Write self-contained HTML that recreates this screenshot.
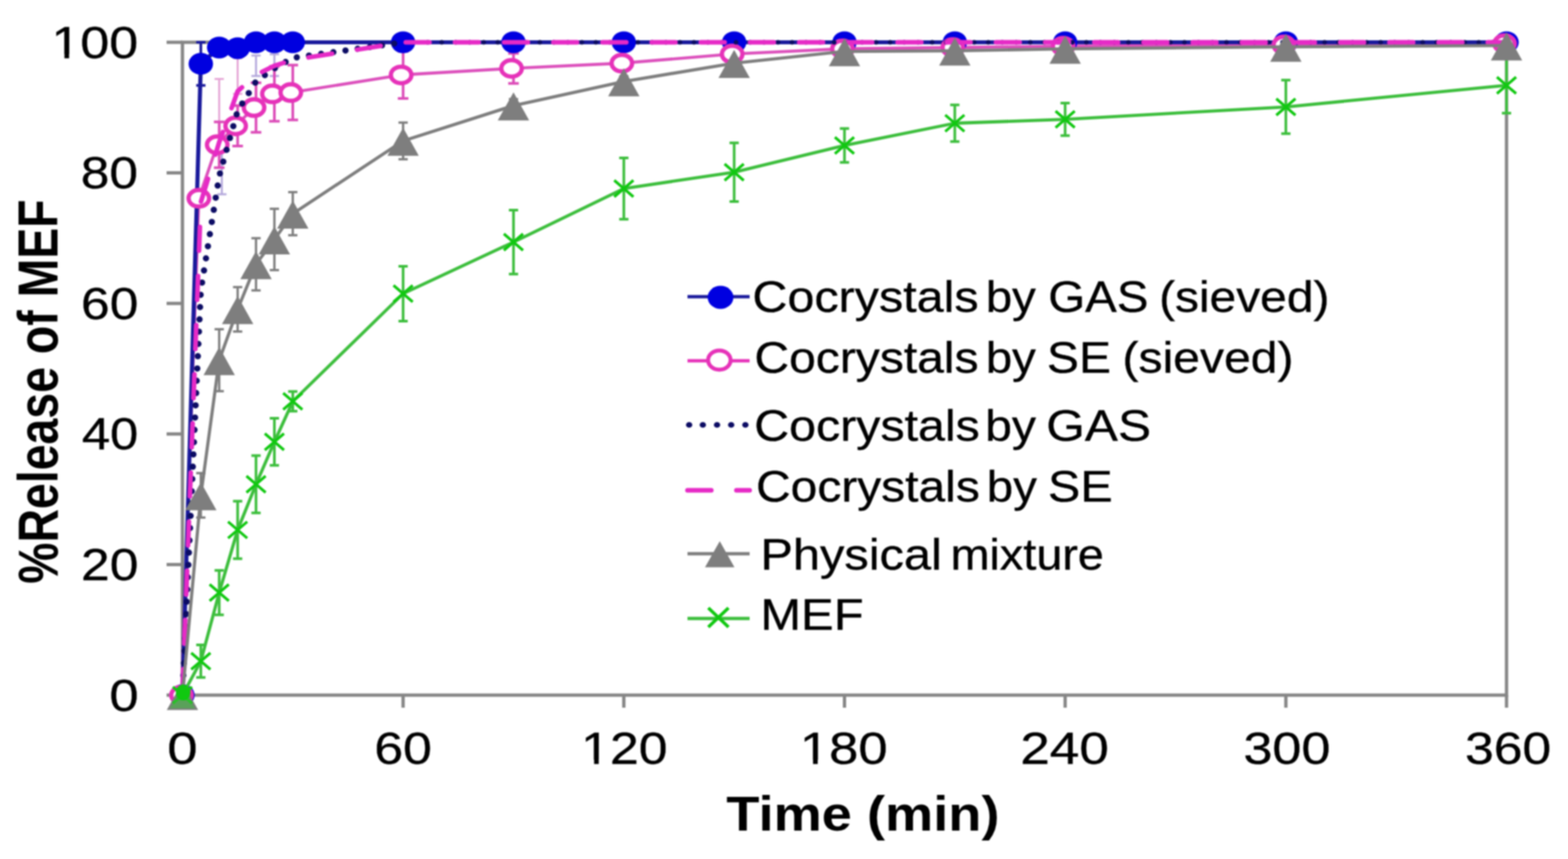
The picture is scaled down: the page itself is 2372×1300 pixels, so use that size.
<!DOCTYPE html>
<html><head><meta charset="utf-8"><title>%Release of MEF vs Time</title>
<style>
html,body{margin:0;padding:0;background:#fff;}
body{width:2372px;height:1300px;overflow:hidden;}
svg{display:block;font-family:"Liberation Sans",Arial,sans-serif;filter:blur(1.2px);}
</style></head><body>
<svg width="2372" height="1300" viewBox="0 0 2372 1300">
<rect width="2372" height="1300" fill="#fff"/>
<g stroke="#868686" stroke-width="5" fill="none">
<rect x="276.0" y="64.0" width="2003.0" height="988.0"/>
<line x1="252" y1="1052.0" x2="276.0" y2="1052.0"/>
<line x1="252" y1="854.4" x2="276.0" y2="854.4"/>
<line x1="252" y1="656.8" x2="276.0" y2="656.8"/>
<line x1="252" y1="459.2" x2="276.0" y2="459.2"/>
<line x1="252" y1="261.6" x2="276.0" y2="261.6"/>
<line x1="252" y1="64.0" x2="276.0" y2="64.0"/>
<line x1="276.0" y1="1052.0" x2="276.0" y2="1071"/>
<line x1="609.8" y1="1052.0" x2="609.8" y2="1071"/>
<line x1="943.7" y1="1052.0" x2="943.7" y2="1071"/>
<line x1="1277.5" y1="1052.0" x2="1277.5" y2="1071"/>
<line x1="1611.3" y1="1052.0" x2="1611.3" y2="1071"/>
<line x1="1945.2" y1="1052.0" x2="1945.2" y2="1071"/>
<line x1="2279.0" y1="1052.0" x2="2279.0" y2="1071"/>
</g>
<g fill="#000" font-family="Liberation Sans, Arial, sans-serif">
<text transform="translate(77.72,87.60) scale(1.1583,1)" font-size="68.0" font-weight="normal" stroke="#000" stroke-width="0.47">100</text>
<text transform="translate(122.37,285.20) scale(1.1429,1)" font-size="68.0" font-weight="normal" stroke="#000" stroke-width="0.48">80</text>
<text transform="translate(122.56,482.80) scale(1.1457,1)" font-size="68.0" font-weight="normal" stroke="#000" stroke-width="0.48">60</text>
<text transform="translate(123.95,680.40) scale(1.1268,1)" font-size="68.0" font-weight="normal" stroke="#000" stroke-width="0.49">40</text>
<text transform="translate(122.55,878.00) scale(1.1486,1)" font-size="68.0" font-weight="normal" stroke="#000" stroke-width="0.48">20</text>
<text transform="translate(165.49,1075.60) scale(1.1688,1)" font-size="68.0" font-weight="normal" stroke="#000" stroke-width="0.47">0</text>
<text transform="translate(252.95,1155.50) scale(1.2156,1)" font-size="68.0" font-weight="normal" stroke="#000" stroke-width="0.45">0</text>
<text transform="translate(566.15,1155.50) scale(1.1514,1)" font-size="68.0" font-weight="normal" stroke="#000" stroke-width="0.48">60</text>
<text transform="translate(879.06,1155.50) scale(1.1526,1)" font-size="68.0" font-weight="normal" stroke="#000" stroke-width="0.48">120</text>
<text transform="translate(1209.95,1155.50) scale(1.1698,1)" font-size="68.0" font-weight="normal" stroke="#000" stroke-width="0.47">180</text>
<text transform="translate(1543.46,1155.50) scale(1.1806,1)" font-size="68.0" font-weight="normal" stroke="#000" stroke-width="0.47">240</text>
<text transform="translate(1880.92,1155.50) scale(1.1611,1)" font-size="68.0" font-weight="normal" stroke="#000" stroke-width="0.47">300</text>
<text transform="translate(2216.15,1155.50) scale(1.1500,1)" font-size="68.0" font-weight="normal" stroke="#000" stroke-width="0.48">360</text>
<rect x="82.52" y="81.92" width="14.97" height="7.48" fill="#fff"/>
<rect x="104.53" y="81.92" width="14.35" height="7.48" fill="#fff"/>
<rect x="883.83" y="1149.82" width="14.90" height="7.48" fill="#fff"/>
<rect x="905.74" y="1149.82" width="14.29" height="7.48" fill="#fff"/>
<rect x="1214.81" y="1149.82" width="15.11" height="7.48" fill="#fff"/>
<rect x="1237.02" y="1149.82" width="14.48" height="7.48" fill="#fff"/>
<text transform="translate(1098.79,1256.80) scale(1.1084,1)" font-size="74.0" font-weight="bold">Time (min)</text>
<text transform="translate(87,883.60) rotate(-90) scale(0.9983,1.2)" font-size="70.4" font-weight="bold">%Release of MEF</text>
</g>
<path d="M331.6 119.5V222.0M324.6 119.5H338.6M324.6 222.0H338.6" stroke="#e6a6d6" stroke-width="3.0" fill="none"/>
<path d="M359.5 88.0V142.0M352.5 88.0H366.5M352.5 142.0H366.5" stroke="#e6a6d6" stroke-width="3.0" fill="none"/>
<path d="M387.3 84.0V115.0M380.3 84.0H394.3M380.3 115.0H394.3" stroke="#b4a8dc" stroke-width="3.0" fill="none"/>
<path d="M415.1 82.0V115.0M408.1 82.0H422.1M408.1 115.0H422.1" stroke="#b4a8dc" stroke-width="3.0" fill="none"/>
<path d="M335.6 230.0V294.0M328.6 230.0H342.6M328.6 294.0H342.6" stroke="#b4a8dc" stroke-width="3.0" fill="none"/>
<g stroke="#1a1a9c" stroke-width="4.0" fill="none" opacity="1.00">
<path d="M303.8 64.0V129.2M296.8 64.0H310.8M296.8 129.2H310.8"/>
<path d="M331.6 64.0V79.8M324.6 64.0H338.6M324.6 79.8H338.6"/>
<path d="M359.5 64.0V81.8M352.5 64.0H366.5M352.5 81.8H366.5"/>
</g>
<g stroke="#dc4cb8" stroke-width="4.0" fill="none" opacity="1.00">
<path d="M331.6 184.5V253.7M323.6 184.5H339.6M323.6 253.7H339.6"/>
<path d="M359.5 159.8V221.1M351.5 159.8H367.5M351.5 221.1H367.5"/>
<path d="M387.3 125.3V200.3M379.3 125.3H395.3M379.3 200.3H395.3"/>
<path d="M415.1 100.6V183.5M407.1 100.6H423.1M407.1 183.5H423.1"/>
<path d="M442.9 98.6V181.6M434.9 98.6H450.9M434.9 181.6H450.9"/>
<path d="M609.8 77.8V149.0M601.8 77.8H617.8M601.8 149.0H617.8"/>
<path d="M776.8 80.8V126.2M768.8 80.8H784.8M768.8 126.2H784.8"/>
<path d="M943.7 85.7V105.5M935.7 85.7H951.7M935.7 105.5H951.7"/>
<path d="M1110.6 75.9V87.7M1102.6 75.9H1118.6M1102.6 87.7H1118.6"/>
<path d="M1277.5 69.9V77.8M1269.5 69.9H1285.5M1269.5 77.8H1285.5"/>
<path d="M1444.4 68.9V74.9M1436.4 68.9H1452.4M1436.4 74.9H1452.4"/>
<path d="M1611.3 67.0V72.9M1603.3 67.0H1619.3M1603.3 72.9H1619.3"/>
<path d="M1945.2 66.0V69.9M1937.2 66.0H1953.2M1937.2 69.9H1953.2"/>
</g>
<g stroke="#7e7e7e" stroke-width="3.5" fill="none" opacity="1.00">
<path d="M303.8 716.1V783.3M296.8 716.1H310.8M296.8 783.3H310.8"/>
<path d="M331.6 498.2V592.1M324.6 498.2H338.6M324.6 592.1H338.6"/>
<path d="M359.5 434.5V501.7M352.5 434.5H366.5M352.5 501.7H366.5"/>
<path d="M387.3 360.4V439.4M380.3 360.4H394.3M380.3 439.4H394.3"/>
<path d="M415.1 315.9V408.8M408.1 315.9H422.1M408.1 408.8H422.1"/>
<path d="M442.9 290.7V356.0M435.9 290.7H449.9M435.9 356.0H449.9"/>
<path d="M609.8 185.5V240.9M602.8 185.5H616.8M602.8 240.9H616.8"/>
<path d="M776.8 150.0V169.7M769.8 150.0H783.8M769.8 169.7H783.8"/>
<path d="M943.7 115.4V131.2M936.7 115.4H950.7M936.7 131.2H950.7"/>
<path d="M1110.6 89.7V101.5M1103.6 89.7H1117.6M1103.6 101.5H1117.6"/>
<path d="M1277.5 73.9V81.8M1270.5 73.9H1284.5M1270.5 81.8H1284.5"/>
<path d="M1444.4 72.9V80.8M1437.4 72.9H1451.4M1437.4 80.8H1451.4"/>
<path d="M1611.3 69.9V77.8M1604.3 69.9H1618.3M1604.3 77.8H1618.3"/>
<path d="M1945.2 67.0V74.9M1938.2 67.0H1952.2M1938.2 74.9H1952.2"/>
<path d="M2279.0 65.0V72.9M2272.0 65.0H2286.0M2272.0 72.9H2286.0"/>
</g>
<g stroke="#3cbe3c" stroke-width="4.0" fill="none" opacity="1.00">
<path d="M303.8 975.9V1025.3M296.8 975.9H310.8M296.8 1025.3H310.8"/>
<path d="M331.6 863.3V930.5M324.6 863.3H338.6M324.6 930.5H338.6"/>
<path d="M359.5 758.6V845.5M352.5 758.6H366.5M352.5 845.5H366.5"/>
<path d="M387.3 689.4V776.3M380.3 689.4H394.3M380.3 776.3H394.3"/>
<path d="M415.1 633.1V704.2M408.1 633.1H422.1M408.1 704.2H422.1"/>
<path d="M442.9 592.6V622.2M435.9 592.6H449.9M435.9 622.2H449.9"/>
<path d="M609.8 402.9V485.9M602.8 402.9H616.8M602.8 485.9H616.8"/>
<path d="M776.8 317.9V414.7M769.8 317.9H783.8M769.8 414.7H783.8"/>
<path d="M943.7 238.9V331.7M936.7 238.9H950.7M936.7 331.7H950.7"/>
<path d="M1110.6 216.2V305.1M1103.6 216.2H1117.6M1103.6 305.1H1117.6"/>
<path d="M1277.5 194.4V245.8M1270.5 194.4H1284.5M1270.5 245.8H1284.5"/>
<path d="M1444.4 158.8V214.2M1437.4 158.8H1451.4M1437.4 214.2H1451.4"/>
<path d="M1611.3 155.9V205.3M1604.3 155.9H1618.3M1604.3 205.3H1618.3"/>
<path d="M1945.2 121.3V202.3M1938.2 121.3H1952.2M1938.2 202.3H1952.2"/>
<path d="M2279.0 87.2V171.2M2272.0 87.2H2286.0M2272.0 171.2H2286.0"/>
</g>
<polyline points="274.5,1052.0 300.8,300.1 328.6,219.1 356.5,190.5 384.3,162.8 412.1,142.1 439.9,140.1 606.8,113.4 773.8,103.5 940.7,95.6 1107.6,81.8 1274.5,73.9 1441.4,71.9 1608.3,69.9 1942.2,68.0 2276.0,66.0" fill="none" stroke="#dc50bc" stroke-width="4.6" stroke-linejoin="round"/>
<polyline points="276.0,1052.0 303.8,96.6 331.6,71.9 359.5,72.9 387.3,64.0 415.1,64.0 442.9,64.0 609.8,64.0 776.8,64.0 943.7,64.0 1110.6,64.0 1277.5,64.0 1444.4,64.0 1611.3,64.0 1945.2,64.0 2279.0,64.0" fill="none" stroke="#1a1a9c" stroke-width="6.2" stroke-linejoin="round"/>
<g fill="#0000e0">
<ellipse cx="276.0" cy="1052.0" rx="18.5" ry="16.5"/>
<ellipse cx="303.8" cy="96.6" rx="18.5" ry="16.5"/>
<ellipse cx="331.6" cy="71.9" rx="18.5" ry="16.5"/>
<ellipse cx="359.5" cy="72.9" rx="18.5" ry="16.5"/>
<ellipse cx="387.3" cy="64.0" rx="18.5" ry="16.5"/>
<ellipse cx="415.1" cy="64.0" rx="18.5" ry="16.5"/>
<ellipse cx="442.9" cy="64.0" rx="18.5" ry="16.5"/>
<ellipse cx="609.8" cy="64.0" rx="18.5" ry="16.5"/>
<ellipse cx="776.8" cy="64.0" rx="18.5" ry="16.5"/>
<ellipse cx="943.7" cy="64.0" rx="18.5" ry="16.5"/>
<ellipse cx="1110.6" cy="64.0" rx="18.5" ry="16.5"/>
<ellipse cx="1277.5" cy="64.0" rx="18.5" ry="16.5"/>
<ellipse cx="1444.4" cy="64.0" rx="18.5" ry="16.5"/>
<ellipse cx="1611.3" cy="64.0" rx="18.5" ry="16.5"/>
<ellipse cx="1945.2" cy="64.0" rx="18.5" ry="16.5"/>
<ellipse cx="2279.0" cy="64.0" rx="18.5" ry="16.5"/>
</g>
<g fill="#fff" stroke="#e632b9" stroke-width="6.5">
<ellipse cx="274.5" cy="1052.0" rx="15.5" ry="12.5"/>
<ellipse cx="300.8" cy="300.1" rx="15.5" ry="12.5"/>
<ellipse cx="328.6" cy="219.1" rx="15.5" ry="12.5"/>
<ellipse cx="356.5" cy="190.5" rx="15.5" ry="12.5"/>
<ellipse cx="384.3" cy="162.8" rx="15.5" ry="12.5"/>
<ellipse cx="412.1" cy="142.1" rx="15.5" ry="12.5"/>
<ellipse cx="439.9" cy="140.1" rx="15.5" ry="12.5"/>
<ellipse cx="606.8" cy="113.4" rx="15.5" ry="12.5"/>
<ellipse cx="773.8" cy="103.5" rx="15.5" ry="12.5"/>
<ellipse cx="940.7" cy="95.6" rx="15.5" ry="12.5"/>
<ellipse cx="1107.6" cy="81.8" rx="15.5" ry="12.5"/>
<ellipse cx="1274.5" cy="73.9" rx="15.5" ry="12.5"/>
<ellipse cx="1441.4" cy="71.9" rx="15.5" ry="12.5"/>
<ellipse cx="1608.3" cy="69.9" rx="15.5" ry="12.5"/>
<ellipse cx="1942.2" cy="68.0" rx="15.5" ry="12.5"/>
<ellipse cx="2276.0" cy="66.0" rx="15.5" ry="12.5"/>
</g>
<polyline points="276.0,1052.0 303.8,439.4 331.6,266.5 359.5,167.7 387.3,123.3 415.1,103.5 442.9,87.7 609.8,64.0" fill="none" stroke="#0c0c64" stroke-width="9.5" stroke-linecap="round" stroke-dasharray="0 18.6" stroke-dashoffset="7.35"/>
<polyline points="609.8,64.0 776.8,64.0 943.7,64.0 1110.6,64.0 1277.5,64.0 1444.4,64.0 1611.3,64.0 1945.2,64.0 2279.0,64.0" fill="none" stroke="#0c0c64" stroke-width="7" stroke-linecap="round" stroke-dasharray="0 21.2" stroke-dashoffset="5.2"/>
<polyline points="276.0,1052.0 303.8,306.1 331.6,215.2 359.5,138.1 387.3,113.4 415.1,99.6 442.9,90.7 609.8,64.0 776.8,64.0 943.7,64.0 1110.6,64.0 1277.5,64.0 1444.4,64.0 1611.3,64.0 1945.2,64.0 2279.0,64.0" fill="none" stroke="#e62ac6" stroke-width="7" stroke-linecap="round" stroke-dasharray="36 38.4" stroke-dashoffset="-3.5"/>
<polyline points="276.0,1052.0 303.8,749.7 331.6,545.2 359.5,468.1 387.3,399.9 415.1,362.4 442.9,323.4 609.8,213.2 776.8,159.8 943.7,123.3 1110.6,95.6 1277.5,77.8 1444.4,76.8 1611.3,73.9 1945.2,70.9 2279.0,68.9" fill="none" stroke="#7e7e7e" stroke-width="4.8" stroke-linejoin="round"/>
<g fill="#7e7e7e">
<path d="M276.0 1032.0L299.7 1074.5L252.3 1074.5Z"/>
<path d="M303.8 729.7L327.5 772.2L280.1 772.2Z"/>
<path d="M331.6 525.2L355.3 567.7L307.9 567.7Z"/>
<path d="M359.5 448.1L383.2 490.6L335.8 490.6Z"/>
<path d="M387.3 379.9L411.0 422.4L363.6 422.4Z"/>
<path d="M415.1 342.4L438.8 384.9L391.4 384.9Z"/>
<path d="M442.9 303.4L466.6 345.9L419.2 345.9Z"/>
<path d="M609.8 193.2L633.5 235.7L586.1 235.7Z"/>
<path d="M776.8 139.8L800.5 182.3L753.0 182.3Z"/>
<path d="M943.7 103.3L967.4 145.8L920.0 145.8Z"/>
<path d="M1110.6 75.6L1134.3 118.1L1086.9 118.1Z"/>
<path d="M1277.5 57.8L1301.2 100.3L1253.8 100.3Z"/>
<path d="M1444.4 56.8L1468.1 99.3L1420.7 99.3Z"/>
<path d="M1611.3 53.9L1635.0 96.4L1587.6 96.4Z"/>
<path d="M1945.2 50.9L1968.9 93.4L1921.5 93.4Z"/>
<path d="M2279.0 48.9L2302.7 91.4L2255.3 91.4Z"/>
</g>
<polyline points="276.0,1052.0 303.8,1000.6 331.6,896.9 359.5,802.0 387.3,732.9 415.1,668.7 442.9,607.4 609.8,444.4 776.8,366.3 943.7,285.3 1110.6,260.6 1277.5,220.1 1444.4,186.5 1611.3,180.6 1945.2,161.8 2279.0,129.2" fill="none" stroke="#3cbe3c" stroke-width="4.8" stroke-linejoin="round"/>
<g stroke="#10c810" stroke-width="4.2" fill="none">
<path d="M261.5 1039.5L290.5 1064.5M261.5 1064.5L290.5 1039.5"/>
<path d="M289.3 988.1L318.3 1013.1M289.3 1013.1L318.3 988.1"/>
<path d="M317.1 884.4L346.1 909.4M317.1 909.4L346.1 884.4"/>
<path d="M345.0 789.5L374.0 814.5M345.0 814.5L374.0 789.5"/>
<path d="M372.8 720.4L401.8 745.4M372.8 745.4L401.8 720.4"/>
<path d="M400.6 656.2L429.6 681.2M400.6 681.2L429.6 656.2"/>
<path d="M428.4 594.9L457.4 619.9M428.4 619.9L457.4 594.9"/>
<path d="M595.3 431.9L624.3 456.9M595.3 456.9L624.3 431.9"/>
<path d="M762.2 353.8L791.2 378.8M762.2 378.8L791.2 353.8"/>
<path d="M929.2 272.8L958.2 297.8M929.2 297.8L958.2 272.8"/>
<path d="M1096.1 248.1L1125.1 273.1M1096.1 273.1L1125.1 248.1"/>
<path d="M1263.0 207.6L1292.0 232.6M1263.0 232.6L1292.0 207.6"/>
<path d="M1429.9 174.0L1458.9 199.0M1429.9 199.0L1458.9 174.0"/>
<path d="M1596.8 168.1L1625.8 193.1M1596.8 193.1L1625.8 168.1"/>
<path d="M1930.7 149.3L1959.7 174.3M1930.7 174.3L1959.7 149.3"/>
<path d="M2264.5 116.7L2293.5 141.7M2264.5 141.7L2293.5 116.7"/>
</g>
<path d="M276.0 1038.0L295.0 1072.0L257.0 1072.0Z" fill="#3cbe3c" opacity="0.55"/>
<ellipse cx="277.0" cy="1048.0" rx="11" ry="12" fill="#10c810"/>
<line x1="1040" y1="449" x2="1134" y2="449" stroke="#1a1a9c" stroke-width="5"/>
<ellipse cx="1090" cy="450" rx="19.5" ry="17.5" fill="#0000e0"/>
<line x1="1040" y1="546" x2="1134" y2="546" stroke="#e632b9" stroke-width="5"/>
<ellipse cx="1088.2" cy="545" rx="17" ry="14.4" fill="#fff" stroke="#e632b9" stroke-width="6"/>
<g fill="#0c0c64">
<ellipse cx="1042.5" cy="643" rx="4.8" ry="4.3"/>
<ellipse cx="1063.2" cy="643" rx="4.8" ry="4.3"/>
<ellipse cx="1084.7" cy="643" rx="4.8" ry="4.3"/>
<ellipse cx="1106.1" cy="643" rx="4.8" ry="4.3"/>
<ellipse cx="1127.6" cy="643" rx="4.8" ry="4.3"/>
</g>
<g stroke="#e62ac6" stroke-width="7" stroke-linecap="round">
<line x1="1040" y1="742" x2="1076" y2="742"/><line x1="1114" y1="742" x2="1134" y2="742"/>
</g>
<line x1="1040" y1="838" x2="1134" y2="838" stroke="#7e7e7e" stroke-width="5"/>
<path d="M1088.8 819L1111 858.5L1066.5 858.5Z" fill="#7e7e7e"/>
<line x1="1040" y1="936" x2="1134" y2="936" stroke="#3cbe3c" stroke-width="5"/>
<path d="M1071.5 920L1102 949M1071.5 949L1102 920" stroke="#10c810" stroke-width="5"/>
<g fill="#000" font-family="Liberation Sans, Arial, sans-serif">
<text transform="translate(1138.27,471.60) scale(1.1106,1)" font-size="66.0" font-weight="normal" stroke="#000" stroke-width="0.50">Cocrystals</text>
<text transform="translate(1491.15,471.60) scale(1.0879,1)" font-size="66.0" font-weight="normal" stroke="#000" stroke-width="0.51">by</text>
<text transform="translate(1585.84,471.60) scale(1.0865,1)" font-size="66.0" font-weight="normal" stroke="#000" stroke-width="0.51">GAS</text>
<text transform="translate(1753.41,471.60) scale(1.0978,1)" font-size="66.0" font-weight="normal" stroke="#000" stroke-width="0.50">(sieved)</text>
<text transform="translate(1141.20,564.10) scale(1.1010,1)" font-size="66.0" font-weight="normal" stroke="#000" stroke-width="0.50">Cocrystals</text>
<text transform="translate(1491.15,564.10) scale(1.0879,1)" font-size="66.0" font-weight="normal" stroke="#000" stroke-width="0.51">by</text>
<text transform="translate(1583.80,564.10) scale(1.1000,1)" font-size="66.0" font-weight="normal" stroke="#000" stroke-width="0.50">SE</text>
<text transform="translate(1698.09,564.10) scale(1.1022,1)" font-size="66.0" font-weight="normal" stroke="#000" stroke-width="0.50">(sieved)</text>
<text transform="translate(1141.08,666.50) scale(1.1073,1)" font-size="66.0" font-weight="normal" stroke="#000" stroke-width="0.50">Cocrystals</text>
<text transform="translate(1490.18,666.50) scale(1.1045,1)" font-size="66.0" font-weight="normal" stroke="#000" stroke-width="0.50">by</text>
<text transform="translate(1582.69,666.50) scale(1.1376,1)" font-size="66.0" font-weight="normal" stroke="#000" stroke-width="0.48">GAS</text>
<text transform="translate(1143.70,759.30) scale(1.0987,1)" font-size="66.0" font-weight="normal" stroke="#000" stroke-width="0.50">Cocrystals</text>
<text transform="translate(1492.86,759.30) scale(1.0848,1)" font-size="66.0" font-weight="normal" stroke="#000" stroke-width="0.51">by</text>
<text transform="translate(1585.36,759.30) scale(1.1122,1)" font-size="66.0" font-weight="normal" stroke="#000" stroke-width="0.49">SE</text>
<text transform="translate(1150.21,862.30) scale(1.1178,1)" font-size="66.0" font-weight="normal" stroke="#000" stroke-width="0.49">Physical</text>
<text transform="translate(1437.91,862.30) scale(1.0724,1)" font-size="66.0" font-weight="normal" stroke="#000" stroke-width="0.51">mixture</text>
<text transform="translate(1150.19,952.70) scale(1.1220,1)" font-size="66.0" font-weight="normal" stroke="#000" stroke-width="0.49">MEF</text>
</g>
</svg>
</body></html>
